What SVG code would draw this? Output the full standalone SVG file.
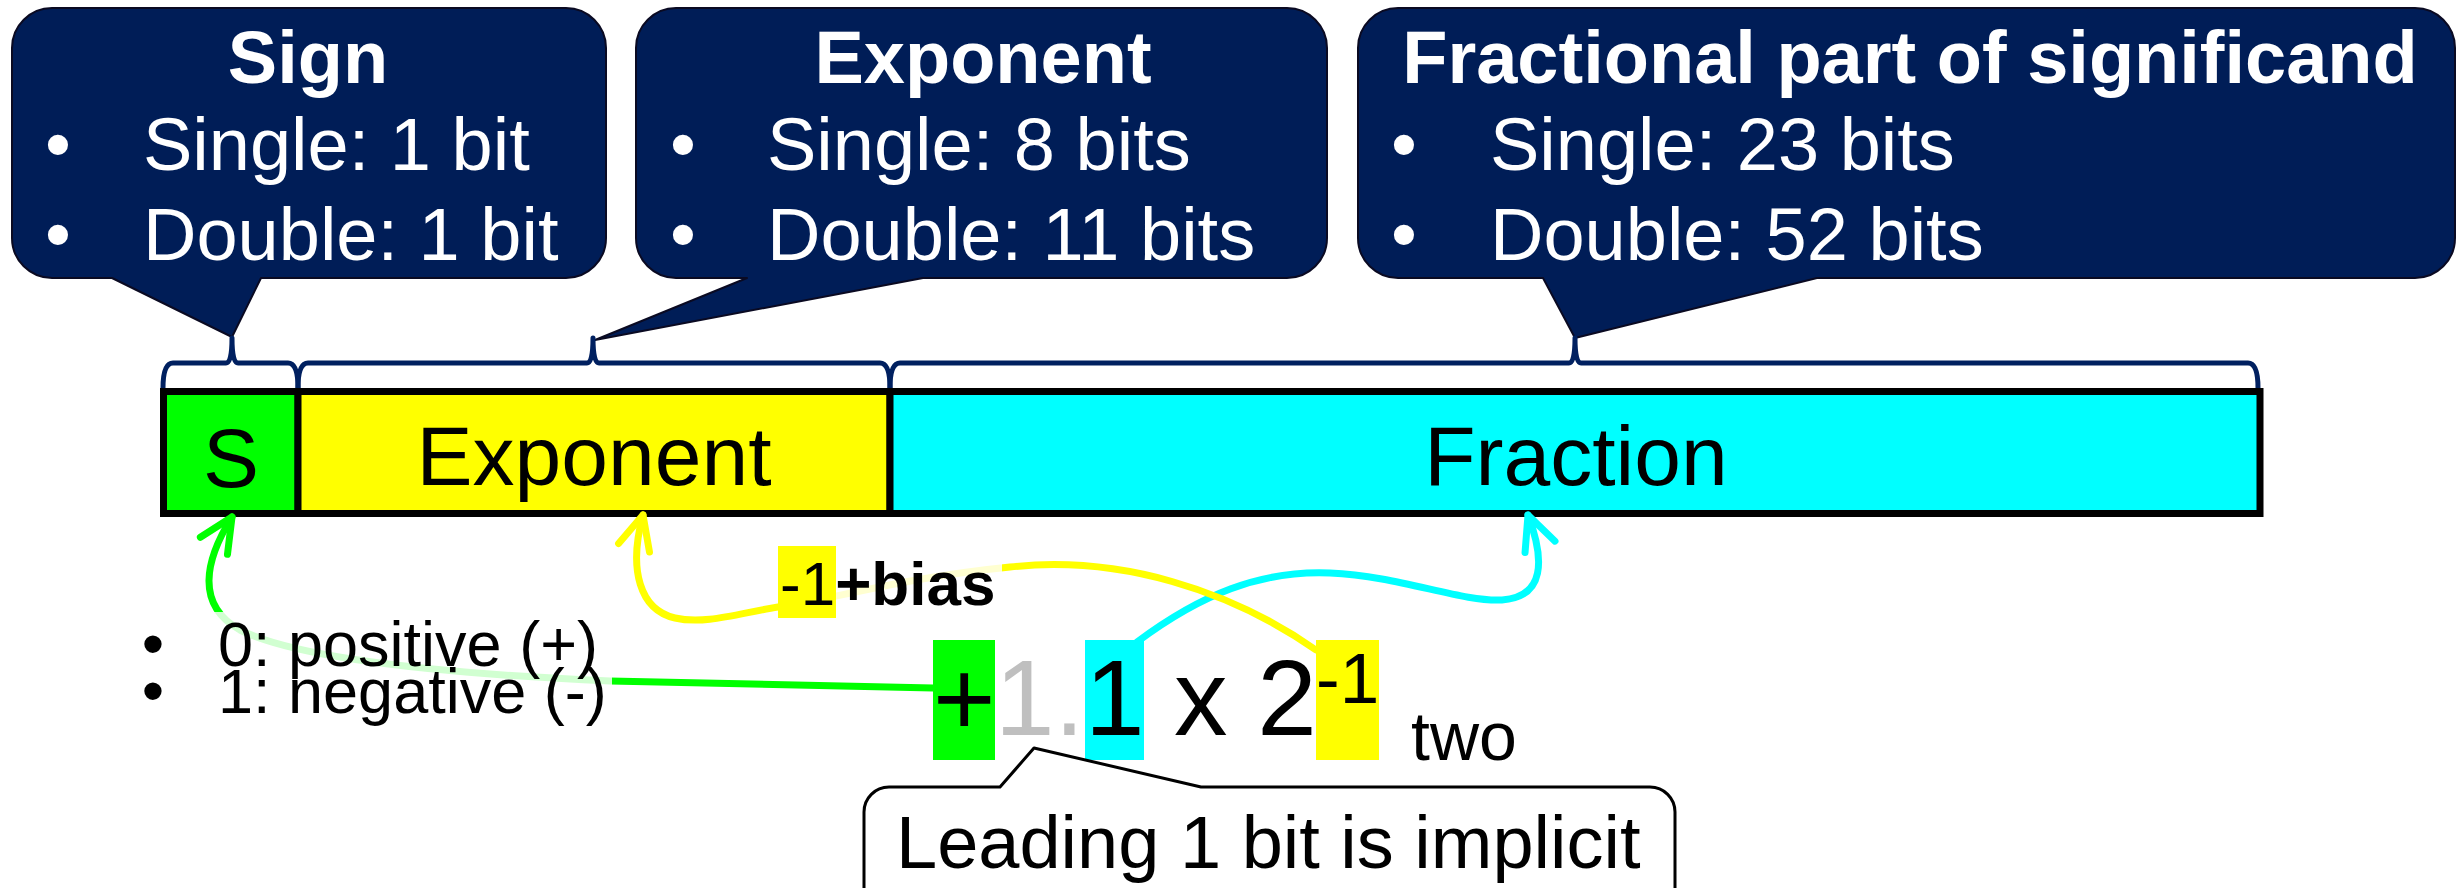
<svg xmlns="http://www.w3.org/2000/svg" width="2458" height="888" viewBox="0 0 2458 888">
<style>
.cb{fill:#001D57;stroke:#0a0a22;stroke-width:2;stroke-linejoin:round}
.hd{font-family:'Liberation Sans',Arial,sans-serif;font-weight:bold;font-size:74px;fill:#fff;text-anchor:middle}
.it{font-family:'Liberation Sans',Arial,sans-serif;font-size:74px;fill:#fff}
.bu{font-family:'Liberation Sans',Arial,sans-serif;font-size:74px;fill:#fff;text-anchor:middle}
.brace{fill:none;stroke:#002060;stroke-width:5;stroke-linejoin:round}
.cell{stroke:#000;stroke-width:7}
.lbl{font-family:'Liberation Sans',Arial,sans-serif;font-size:84px;fill:#000;text-anchor:middle}
.t{font-family:'Liberation Sans',Arial,sans-serif;fill:#000}
.gray{fill:#BFBFBF}
.conn{fill:none;stroke-width:7;stroke-linecap:round}
.tb{fill:#fff;fill-opacity:0.82}
</style>
<defs>
<marker id="ag" markerUnits="userSpaceOnUse" orient="auto" overflow="visible"><path d="M-34,-16 L0,0 L-34,16" fill="none" stroke="#00FF00" stroke-width="7" stroke-linecap="round" stroke-linejoin="round"/></marker>
<marker id="ay" markerUnits="userSpaceOnUse" orient="auto" overflow="visible"><path d="M-34,-16 L0,0 L-34,16" fill="none" stroke="#FFFF00" stroke-width="7" stroke-linecap="round" stroke-linejoin="round"/></marker>
<marker id="ac" markerUnits="userSpaceOnUse" orient="auto" overflow="visible"><path d="M-34,-16 L0,0 L-34,16" fill="none" stroke="#00FFFF" stroke-width="7" stroke-linecap="round" stroke-linejoin="round"/></marker>
</defs>

<g id="callout-sign">
<path class="cb" d="M52,8 H566 A40 40 0 0 1 606,48 V238 A40 40 0 0 1 566,278 H261 L232,337 L112,278 H52 A40 40 0 0 1 12,238 V48 A40 40 0 0 1 52,8 Z"/>
<text class="hd" x="308" y="83">Sign</text>
<text class="bu" x="58" y="170">•</text><text class="it" x="143" y="170">Single: 1 bit</text>
<text class="bu" x="58" y="260">•</text><text class="it" x="143" y="260">Double: 1 bit</text>
</g>

<g id="callout-exponent">
<path class="cb" d="M676,8 H1287 A40 40 0 0 1 1327,48 V238 A40 40 0 0 1 1287,278 H923 L595,340 L747,278 H676 A40 40 0 0 1 636,238 V48 A40 40 0 0 1 676,8 Z"/>
<text class="hd" x="983" y="83">Exponent</text>
<text class="bu" x="683" y="170">•</text><text class="it" x="767" y="170">Single: 8 bits</text>
<text class="bu" x="683" y="260">•</text><text class="it" x="767" y="260">Double: 11 bits</text>
</g>

<g id="callout-fraction">
<path class="cb" d="M1398,8 H2415 A40 40 0 0 1 2455,48 V238 A40 40 0 0 1 2415,278 H1817 L1575,338 L1543,278 H1398 A40 40 0 0 1 1358,238 V48 A40 40 0 0 1 1398,8 Z"/>
<text class="hd" x="1910" y="83">Fractional part of significand</text>
<text class="bu" x="1404" y="170">•</text><text class="it" x="1490" y="170">Single: 23 bits</text>
<text class="bu" x="1404" y="260">•</text><text class="it" x="1490" y="260">Double: 52 bits</text>
</g>

<g id="braces">
<path class="brace" d="M163,388 Q163,363 173,363 H226 Q232,363 232,338 Q232,363 238,363 H288 Q298,363 298,388"/>
<path class="brace" d="M298,388 Q298,363 308,363 H587 Q593,363 593,338 Q593,363 599,363 H880 Q890,363 890,388"/>
<path class="brace" d="M890,388 Q890,363 900,363 H1569 Q1575,363 1575,338 Q1575,363 1581,363 H2248 Q2258,363 2258,388"/>
</g>

<g id="field-sign">
<rect class="cell" x="163.5" y="391.5" width="134.5" height="122" fill="#00FF00"/>
<text class="lbl" x="231" y="487">S</text>
</g>
<g id="field-exponent">
<rect class="cell" x="298" y="391.5" width="592" height="122" fill="#FFFF00"/>
<text class="lbl" x="594" y="485">Exponent</text>
</g>
<g id="field-fraction">
<rect class="cell" x="890" y="391.5" width="1370" height="122" fill="#00FFFF"/>
<text class="lbl" x="1576" y="485">Fraction</text>
</g>

<g id="connectors">
<path class="conn" stroke="#00FFFF" marker-end="url(#ac)" d="M1137,642 C1200,595 1260,570 1330,573 C1400,576 1460,602 1502,600 C1545,597 1545,560 1528,515"/>
<path class="conn" stroke="#FFFF00" marker-end="url(#ay)" d="M1316,650 C1230,590 1120,555 1010,567 C900,578 830,600 778,607 C740,613 705,625 675,618 C640,610 628,570 643,515"/>
<path class="conn" stroke="#00FF00" marker-end="url(#ag)" d="M933,688 L610,681 C450,674 300,660 240,630 C195,605 205,560 232,517"/>
</g>

<g id="bias-label">
<rect class="tb" x="778" y="546" width="224" height="72"/>
<rect x="778" y="546" width="58" height="72" fill="#FFFF00"/>
<text class="t" x="780" y="605" font-size="62">-1<tspan font-weight="bold">+bias</tspan></text>
</g>

<g id="sign-values">
<rect class="tb" x="135" y="612" width="477" height="118"/>
<text class="t" x="153" y="666" font-size="64" text-anchor="middle">•</text>
<text class="t" x="218" y="666" font-size="63">0: positive (+)</text>
<text class="t" x="153" y="713" font-size="64" text-anchor="middle">•</text>
<text class="t" x="218" y="713" font-size="63">1: negative (-)</text>
</g>

<g id="formula">
<rect x="933" y="640" width="62" height="120" fill="#00FF00"/>
<rect x="1085" y="640" width="59" height="120" fill="#00FFFF"/>
<rect x="1316" y="640" width="63" height="120" fill="#FFFF00"/>
<text class="t" x="933" y="735" font-size="107">+</text>
<text class="t gray" x="995" y="735" font-size="107">1.</text>
<text class="t" x="1085" y="735" font-size="107">1</text>
<text class="t" x="1174" y="735" font-size="107">x 2</text>
<text class="t" x="1316" y="703" font-size="71">-1</text>
<text class="t" x="1411" y="760" font-size="68">two</text>
</g>

<g id="callout-implicit">
<path d="M889,787 H1000 L1034,748 L1201,787 H1650 A25 25 0 0 1 1675,812 V905 H864 V812 A25 25 0 0 1 889,787 Z" fill="#fff" stroke="#000" stroke-width="3" stroke-linejoin="round"/>
<text class="t" x="896" y="868" font-size="74">Leading 1 bit is implicit</text>
</g>
</svg>
